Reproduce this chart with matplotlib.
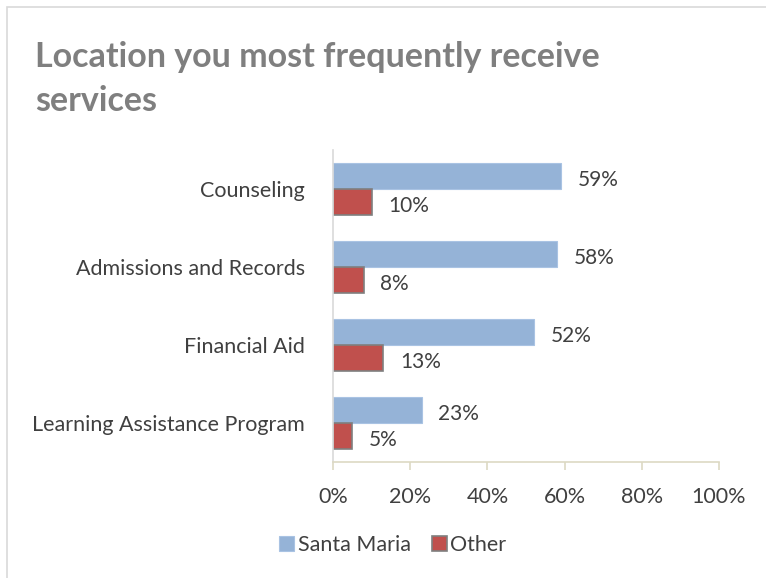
import numpy as np
import matplotlib.pyplot as plt
from matplotlib.patches import Rectangle

categories = ['Counseling', 'Admissions and Records', 'Financial Aid', 'Learning Assistance Program']
santa_maria = [59, 58, 52, 23]
other = [10, 8, 13, 5]
xticks = [0, 20, 40, 60, 80, 100]

plt.rcParams['font.family'] = ['Lato', 'DejaVu Sans']

fig = plt.figure(figsize=(7.66, 5.78), dpi=100)
W, H = 766, 578

# outer chart frame (cropped at right/bottom like the reference)
fig.patches.append(Rectangle((7 / W, -0.05), 1.1, 1 - 7 / H + 0.05, transform=fig.transFigure,
                             fill=False, edgecolor='#d9d9d9', linewidth=1.2))

fig.text(35 / W, 1 - 57 / H, 'Location you most frequently receive', fontsize=24.5,
         fontweight='bold', color='#7f7f7f', va='center')
fig.text(35 / W, 1 - 101 / H, 'services', fontsize=24.5,
         fontweight='bold', color='#7f7f7f', va='center')

ax = fig.add_axes([333 / W, 1 - 462 / H, (719 - 333) / W, (462 - 150) / H])

y = np.arange(len(categories))
h = 0.333
ax.barh(y - h / 2, santa_maria, height=h, color='#95b3d7', edgecolor='#a9c3e3',
        linewidth=0.8, label='Santa Maria')
ax.barh(y + h / 2, other, height=h, color='#c0504d', edgecolor='#7f7f7f',
        linewidth=1.2, label='Other')

for i, (a, b) in enumerate(zip(santa_maria, other)):
    ax.text(a + 4.3, i - h / 2 + 0.05, f'{a}%', va='center', fontsize=15, color='#404040')
    ax.text(b + 4.3, i + h / 2 + 0.05, f'{b}%', va='center', fontsize=15, color='#404040')

ax.set_ylim(len(categories) - 0.5, -0.5)
ax.set_xlim(0, 100)
ax.set_yticks(y)
ax.set_yticklabels(categories, fontsize=15.5, color='#404040')
ax.set_xticks(xticks)
ax.set_xticklabels([f'{t}%' for t in xticks], fontsize=15.5, color='#404040')
ax.tick_params(axis='y', length=0, pad=20)
ax.tick_params(axis='x', length=6, width=1.2, direction='out', color='#ddd9c3', pad=12)
for s in ['top', 'right']:
    ax.spines[s].set_visible(False)
ax.spines['bottom'].set_color('#ddd9c3')
ax.spines['bottom'].set_linewidth(1.2)
ax.spines['left'].set_color('#d9d9d9')
ax.spines['left'].set_linewidth(1.2)

fig.legend(loc='center', bbox_to_anchor=(393 / W, 1 - 545 / H), ncol=2, frameon=False,
           fontsize=15.5, handlelength=0.7, handleheight=0.7, handletextpad=0.15,
           columnspacing=1.0, labelcolor='#404040')

fig.savefig('out.png', dpi=100)
